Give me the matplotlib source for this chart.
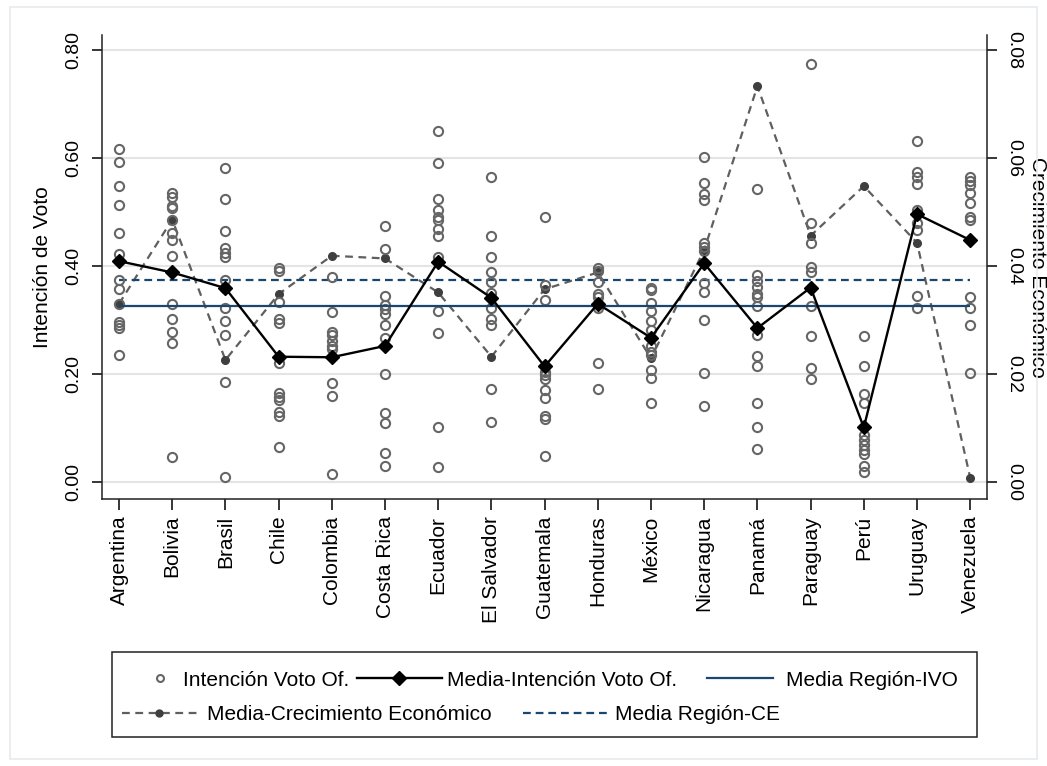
import matplotlib
matplotlib.use('Agg')
import matplotlib.pyplot as plt
from matplotlib.lines import Line2D
from matplotlib.patches import Rectangle

plt.rcParams['font.family'] = ['Liberation Sans', 'DejaVu Sans']

countries = ['Argentina', 'Bolivia', 'Brasil', 'Chile', 'Colombia', 'Costa Rica',
             'Ecuador', 'El Salvador', 'Guatemala', 'Honduras', 'México',
             'Nicaragua', 'Panamá', 'Paraguay', 'Perú', 'Uruguay', 'Venezuela']

# intención de voto oficialista, one list per country
votes = [
    [0.616, 0.593, 0.548, 0.513, 0.462, 0.423, 0.375, 0.357, 0.330, 0.297, 0.291, 0.286, 0.236],
    [0.536, 0.528, 0.511, 0.507, 0.486, 0.462, 0.449, 0.419, 0.330, 0.302, 0.277, 0.257, 0.046],
    [0.581, 0.524, 0.464, 0.433, 0.425, 0.417, 0.374, 0.359, 0.322, 0.298, 0.272, 0.185, 0.009],
    [0.396, 0.391, 0.333, 0.301, 0.295, 0.232, 0.220, 0.165, 0.158, 0.152, 0.130, 0.122, 0.065],
    [0.380, 0.315, 0.278, 0.272, 0.262, 0.251, 0.246, 0.183, 0.160, 0.014],
    [0.474, 0.431, 0.345, 0.328, 0.320, 0.311, 0.290, 0.267, 0.200, 0.127, 0.110, 0.054, 0.030],
    [0.650, 0.590, 0.524, 0.504, 0.491, 0.485, 0.468, 0.456, 0.417, 0.317, 0.275, 0.102, 0.028],
    [0.564, 0.456, 0.417, 0.389, 0.371, 0.350, 0.322, 0.301, 0.291, 0.172, 0.112],
    [0.491, 0.365, 0.337, 0.204, 0.198, 0.190, 0.170, 0.156, 0.122, 0.116, 0.048],
    [0.396, 0.391, 0.371, 0.349, 0.343, 0.330, 0.322, 0.220, 0.172],
    [0.360, 0.356, 0.331, 0.317, 0.298, 0.281, 0.252, 0.241, 0.235, 0.207, 0.192, 0.147],
    [0.601, 0.553, 0.533, 0.522, 0.442, 0.436, 0.428, 0.405, 0.368, 0.352, 0.300, 0.202, 0.141],
    [0.542, 0.383, 0.373, 0.362, 0.349, 0.342, 0.326, 0.272, 0.233, 0.215, 0.147, 0.102, 0.062],
    [0.774, 0.480, 0.442, 0.399, 0.389, 0.326, 0.270, 0.211, 0.190],
    [0.270, 0.215, 0.163, 0.146, 0.087, 0.078, 0.068, 0.060, 0.052, 0.030, 0.018],
    [0.631, 0.575, 0.565, 0.552, 0.504, 0.479, 0.467, 0.344, 0.322],
    [0.564, 0.558, 0.550, 0.535, 0.516, 0.490, 0.485, 0.343, 0.322, 0.291, 0.201],
]

mean_vote = [0.409, 0.388, 0.359, 0.232, 0.231, 0.252, 0.408, 0.341, 0.214,
             0.330, 0.267, 0.405, 0.285, 0.360, 0.101, 0.496, 0.448]

growth = [0.0330, 0.0486, 0.0226, 0.0348, 0.0419, 0.0414, 0.0351, 0.0232, 0.0357,
          0.0388, 0.0229, 0.0430, 0.0733, 0.0456, 0.0548, 0.0443, 0.0008]

region_vote = 0.325
region_growth = 0.0375

yticks_left = [0.0, 0.2, 0.4, 0.6, 0.8]
yticks_right = [0.0, 0.02, 0.04, 0.06, 0.08]

W, H = 1047, 766
navy = '#1a476f'
gray = '#666666'

fig = plt.figure(figsize=(W / 100, H / 100), dpi=100)
fig.add_artist(Rectangle((10 / W, 7 / H), 1027 / W, 752 / H, transform=fig.transFigure,
                         fill=False, edgecolor='#e6ebef', lw=1.2))

ax = fig.add_axes([102 / W, 1 - 499 / H, 884.7 / W, 464 / H])
ax2 = ax.twinx()
ax.set_zorder(ax2.get_zorder() + 1)
ax.patch.set_visible(False)

x = list(range(len(countries)))

# secondary axis: economic growth
ax2.plot(x, growth, color='#5f5f5f', lw=1.6, ls=(0, (3.5, 2.5)), marker='o', ms=5.5,
         mfc='#3f3f3f', mec='#3f3f3f', zorder=3)
ax2.hlines(region_growth, x[0], x[-1], color=navy, lw=1.6, linestyles=(0, (3.5, 2.2)), zorder=3)

# primary axis: vote intention
for i, vals in enumerate(votes):
    ax.plot([i] * len(vals), vals, ls='none', marker='o', ms=6.6, mfc='none',
            mec=gray, mew=1.5, zorder=2)
ax.hlines(region_vote, x[0], x[-1], color=navy, lw=1.6, zorder=4)
ax.plot(x, mean_vote, color='black', lw=1.7, marker='D', ms=7.5, zorder=5)

ax.set_xlim(-0.32, 16.31)
ax.set_ylim(-0.0315, 0.8278)
ax2.set_ylim(-0.00315, 0.08278)

ax.set_xticks(x)
ax.set_xticklabels(countries, rotation=90, fontsize=15)
ax.set_yticks(yticks_left)
ax.set_yticklabels(['%.2f' % v for v in yticks_left], rotation=90, va='center', fontsize=14)
ax2.set_yticks(yticks_right)
ax2.set_yticklabels(['%.2f' % v for v in yticks_right], rotation=270, va='center', fontsize=14)

ax2.yaxis.grid(True, color='#e4e4e4', lw=1.5)
ax2.set_axisbelow(True)

for a in (ax, ax2):
    a.spines['top'].set_visible(False)
    for s in a.spines.values():
        s.set_linewidth(1.1)
        s.set_color('#222222')
ax.spines['right'].set_visible(False)
ax2.spines['left'].set_visible(False)
ax2.spines['bottom'].set_visible(False)

ax.tick_params(axis='x', length=8, width=1.1, pad=4)
ax.tick_params(axis='y', length=7, width=1.1, pad=7)
ax2.tick_params(axis='y', length=7, width=1.1, pad=6)

ax.set_ylabel('Intención de Voto', fontsize=15)
ax.yaxis.set_label_coords(-0.057, 0.5)
ax2.set_ylabel('Crecimiento Económico', fontsize=15, rotation=270, va='bottom')
ax2.yaxis.set_label_coords(1.0467, 0.5)

# legend built row by row inside one frame
fig.add_artist(Rectangle((112.3 / W, 1 - 736.7 / H), 865 / W, 85 / H, transform=fig.transFigure,
                         fill=False, edgecolor='#222222', lw=1.1))

h_pts = Line2D([], [], ls='none', marker='o', ms=5.0, mfc='none', mec=gray, mew=1.5)
h_mean = Line2D([], [], color='black', lw=1.7, marker='D', ms=7.0)
h_rvote = Line2D([], [], color=navy, lw=1.6)
h_growth = Line2D([], [], color='#5f5f5f', lw=1.6, ls=(0, (3.5, 2.5)), marker='o', ms=5.0,
                  mfc='#3f3f3f', mec='#3f3f3f')
h_rgrowth = Line2D([], [], color=navy, lw=1.6, ls=(0, (3.5, 2.2)))


def key(handle, label, x0, yc, hl, pad):
    fig.legend([handle], [label], loc='center left', bbox_to_anchor=(x0 / W, 1 - yc / H),
               frameon=False, borderpad=0, borderaxespad=0, handlelength=hl,
               handletextpad=pad, fontsize=15, markerscale=1.0)


key(h_pts, 'Intención Voto Of.', 150, 680, 1.0, 0.6)
key(h_mean, 'Media-Intención Voto Of.', 356.7, 680, 4.1, 0.25)
key(h_rvote, 'Media Región-IVO', 706.7, 680, 3.2, 0.6)
key(h_growth, 'Media-Crecimiento Económico', 121.7, 715, 3.6, 0.5)
key(h_rgrowth, 'Media Región-CE', 523.3, 715, 4.1, 0.3)

fig.savefig('out.png', dpi=100)
